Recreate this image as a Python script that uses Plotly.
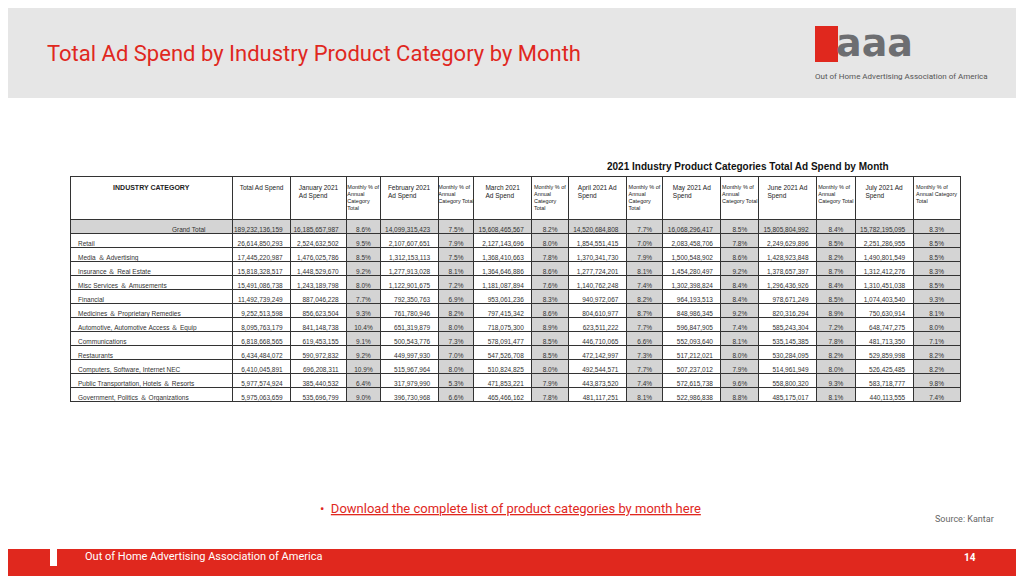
import plotly.graph_objects as go

categories = ["Grand Total", "Retail", "Media & Advertising", "Insurance & Real Estate",
              "Misc Services & Amusements", "Financial", "Medicines & Proprietary Remedies",
              "Automotive, Automotive Access & Equip", "Communications", "Restaurants",
              "Computers, Software, Internet NEC", "Public Transportation, Hotels & Resorts",
              "Government, Politics & Organizations"]
total = ["189,232,136,159", "26,614,850,293", "17,445,220,987", "15,818,328,517", "15,491,086,738",
         "11,492,739,249", "9,252,513,598", "8,095,763,179", "6,818,668,565", "6,434,484,072",
         "6,410,045,891", "5,977,574,924", "5,975,063,659"]
jan = ["16,185,657,987", "2,524,632,502", "1,476,025,786", "1,448,529,670", "1,243,189,798",
       "887,046,228", "856,623,504", "841,148,738", "619,453,155", "590,972,832", "696,208,311",
       "385,440,532", "535,696,799"]
jan_pct = ["8.6%", "9.5%", "8.5%", "9.2%", "8.0%", "7.7%", "9.3%", "10.4%", "9.1%", "9.2%", "10.9%", "6.4%", "9.0%"]
feb = ["14,099,315,423", "2,107,607,651", "1,312,153,113", "1,277,913,028", "1,122,901,675",
       "792,350,763", "761,780,946", "651,319,879", "500,543,776", "449,997,930", "515,967,964",
       "317,979,990", "396,730,968"]
feb_pct = ["7.5%", "7.9%", "7.5%", "8.1%", "7.2%", "6.9%", "8.2%", "8.0%", "7.3%", "7.0%", "8.0%", "5.3%", "6.6%"]
mar = ["15,608,465,567", "2,127,143,696", "1,368,410,663", "1,364,646,886", "1,181,087,894",
       "953,061,236", "797,415,342", "718,075,300", "578,091,477", "547,526,708", "510,824,825",
       "471,853,221", "465,466,162"]
mar_pct = ["8.2%", "8.0%", "7.8%", "8.6%", "7.6%", "8.3%", "8.6%", "8.9%", "8.5%", "8.5%", "8.0%", "7.9%", "7.8%"]
apr = ["14,520,684,808", "1,854,551,415", "1,370,341,730", "1,277,724,201", "1,140,762,248",
       "940,972,067", "804,610,977", "623,511,222", "446,710,065", "472,142,997", "492,544,571",
       "443,873,520", "481,117,251"]
apr_pct = ["7.7%", "7.0%", "7.9%", "8.1%", "7.4%", "8.2%", "8.7%", "7.7%", "6.6%", "7.3%", "7.7%", "7.4%", "8.1%"]
may = ["16,068,296,417", "2,083,458,706", "1,500,548,902", "1,454,280,497", "1,302,398,824",
       "964,193,513", "848,986,345", "596,847,905", "552,093,640", "517,212,021", "507,237,012",
       "572,615,738", "522,986,838"]
may_pct = ["8.5%", "7.8%", "8.6%", "9.2%", "8.4%", "8.4%", "9.2%", "7.4%", "8.1%", "8.0%", "7.9%", "9.6%", "8.8%"]
jun = ["15,805,804,992", "2,249,629,896", "1,428,923,848", "1,378,657,397", "1,296,436,926",
       "978,671,249", "820,316,294", "585,243,304", "535,145,385", "530,284,095", "514,961,949",
       "558,800,320", "485,175,017"]
jun_pct = ["8.4%", "8.5%", "8.2%", "8.7%", "8.4%", "8.5%", "8.9%", "7.2%", "7.8%", "8.2%", "8.0%", "9.3%", "8.1%"]
jul = ["15,782,195,095", "2,251,286,955", "1,490,801,549", "1,312,412,276", "1,310,451,038",
       "1,074,403,540", "750,630,914", "648,747,275", "481,713,350", "529,859,998", "526,425,485",
       "583,718,777", "440,113,555"]
jul_pct = ["8.3%", "8.5%", "8.5%", "8.3%", "8.5%", "9.3%", "8.1%", "8.0%", "7.1%", "8.2%", "8.2%", "9.8%", "7.4%"]

headers = ["<b>INDUSTRY CATEGORY</b>", "<br>Total Ad Spend", "January 2021<br>Ad Spend",
           "Monthly % of<br>Annual<br>Category<br>Total", "February 2021<br>Ad Spend",
           "Monthly % of<br>Annual<br>Category Total", "March 2021<br>Ad Spend",
           "Monthly % of<br>Annual<br>Category<br>Total", "April 2021 Ad<br>Spend",
           "Monthly % of<br>Annual<br>Category<br>Total", "May 2021 Ad<br>Spend",
           "Monthly % of<br>Annual<br>Category Total", "June 2021 Ad<br>Spend",
           "Monthly % of<br>Annual<br>Category Total", "July 2021 Ad<br>Spend",
           "Monthly % of<br>Annual Category<br>Total"]


def plain(s):
    # plain-text cells keep plotly from re-measuring (and growing) the rows
    return s.replace(" ", "\u00a0").replace("&", "\uff06")


labels = [plain(c) for c in categories]
labels[0] = "\u00a0" * 52 + labels[0]

columns = [labels, total, jan, jan_pct, feb, feb_pct, mar, mar_pct, apr, apr_pct,
           may, may_pct, jun, jun_pct, jul, jul_pct]
widths = [160, 57, 55, 33, 57, 35, 57, 36, 57, 36, 57, 37, 57, 38, 57, 46]

n = len(categories)
GRAY = "#d4d4d4"
fills = []
for i in range(len(columns)):
    pct = i >= 3 and i % 2 == 1
    fills.append([GRAY if (r == 0 or pct) else "white" for r in range(n)])
aligns = ["left"] + ["center" if (i >= 3 and i % 2 == 1) else "right" for i in range(1, 16)]
hsize = [7] + [6.5 if (i % 2 == 0 or i == 1) else 5.5 for i in range(1, 16)]

fig = go.Figure(go.Table(
    columnwidth=widths,
    domain=dict(x=[62 / 1024, 952 / 1024], y=[1 - 395 / 576, 1 - 168 / 576]),
    header=dict(values=headers, height=40, fill_color="white", line_color="#333", line_width=1,
                align=["center"] * 16,
                font=dict(family="Arial", size=hsize, color="#222")),
    cells=dict(values=columns, height=14, fill_color=fills, line_color="#333", line_width=1,
               align=aligns, font=dict(family="Arial", size=6.5, color="#333")),
))

shapes = [
    dict(type="rect", xref="paper", yref="paper", x0=-0.01, x1=1.01, y0=1 - 90 / 576, y1=1.02,
         fillcolor="#e6e6e6", line_width=0, layer="below"),
    dict(type="rect", xref="paper", yref="paper", x0=-0.01, x1=1.01, y0=-0.02, y1=35 / 576,
         fillcolor="#e0281e", line_width=0),
    dict(type="rect", xref="paper", yref="paper", x0=807 / 1024, x1=830 / 1024,
         y0=1 - 54 / 576, y1=1 - 18 / 576, fillcolor="#e0281e", line_width=0),
    dict(type="rect", xref="paper", yref="paper", x0=42 / 1024, x1=49 / 1024,
         y0=1 - 558 / 576, y1=1 - 539 / 576, fillcolor="white", line_width=0),
]

annotations = [
    dict(text="Total Ad Spend by Industry Product Category by Month", x=37 / 1024, y=1 - 45 / 576,
         xanchor="left", yanchor="middle", showarrow=False,
         font=dict(family="Liberation Sans Narrow, Roboto", size=22, color="#e0281e")),
    dict(text="<b>aaa</b>", x=826 / 1024, y=1 - 35 / 576, xanchor="left", yanchor="middle",
         showarrow=False, font=dict(family="DejaVu Sans", size=38, color="#6d6e71")),
    dict(text="Out of Home Advertising Association of America", x=805 / 1024, y=1 - 68 / 576,
         xanchor="left", yanchor="middle", showarrow=False,
         font=dict(family="Roboto", size=8, color="#555")),
    dict(text="<b>2021 Industry Product Categories Total Ad Spend by Month</b>", x=740 / 1024,
         y=1 - 158 / 576, xanchor="center", yanchor="middle", showarrow=False,
         font=dict(family="Arial", size=10, color="#111")),
    dict(text="•  <u>Download the complete list of product categories by month here</u>",
         x=310 / 1024, y=1 - 500 / 576, xanchor="left", yanchor="middle", showarrow=False,
         font=dict(family="Roboto", size=13, color="#e0281e")),
    dict(text="Source: Kantar", x=988 / 1024, y=1 - 511 / 576, xanchor="right", yanchor="middle",
         showarrow=False, font=dict(family="Roboto", size=9, color="#666")),
    dict(text="Out of Home Advertising Association of America", x=75 / 1024, y=1 - 548 / 576,
         xanchor="left", yanchor="middle", showarrow=False,
         font=dict(family="Roboto", size=11, color="white")),
    dict(text="<b>14</b>", x=970 / 1024, y=1 - 549 / 576, xanchor="right", yanchor="middle",
         showarrow=False, font=dict(family="Roboto", size=10, color="white")),
]

fig.update_layout(width=1024, height=576, margin=dict(l=0, r=0, t=0, b=0),
                  paper_bgcolor="white", shapes=shapes, annotations=annotations)
fig.write_html("out.html")
